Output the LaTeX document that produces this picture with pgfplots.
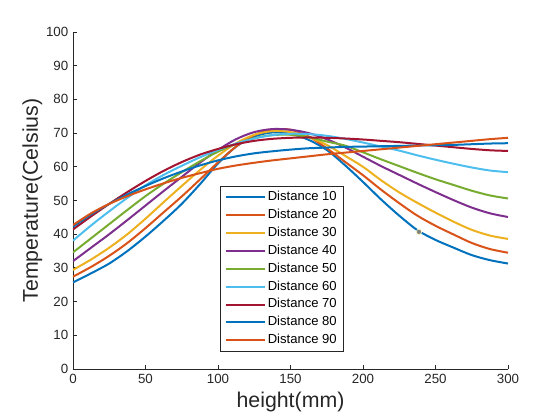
\documentclass[border=0pt]{standalone}
\usepackage{fontspec}
\setmainfont{Liberation Sans}
\usepackage{pgfplots}
\usepackage{pgfplotstable}
\pgfplotsset{compat=1.18}
\definecolor{c1}{RGB}{0,114,189}
\definecolor{c2}{RGB}{217,83,25}
\definecolor{c3}{RGB}{237,177,32}
\definecolor{c4}{RGB}{126,47,142}
\definecolor{c5}{RGB}{119,172,48}
\definecolor{c6}{RGB}{77,190,238}
\definecolor{c7}{RGB}{162,20,47}
\definecolor{axc}{RGB}{38,38,38}
\pgfplotstableread{
x     d10  d20  d30  d40  d50  d60  d70  d80  d90
0     25.7 27.4 29.4 32.0 34.6 38.1 41.4 42.2 42.7
12.5  28.4 30.3 32.5 36.0 38.8 42.6 45.3 45.9 46.2
25    31.3 33.6 36.0 40.0 43.0 46.8 49.0 49.0 49.0
37.5  35.0 37.4 40.0 44.2 47.2 50.8 52.5 51.8 51.3
50    39.3 41.8 44.6 48.5 51.3 54.5 55.8 54.3 53.3
62.5  44.0 46.5 49.5 52.8 55.0 57.6 58.8 56.6 55.1
75    49.0 51.2 54.3 57.0 58.4 60.3 61.4 58.6 56.7
87.5  54.8 56.2 59.0 61.2 61.6 62.8 63.6 60.4 58.1
100   61.0 61.3 63.3 65.0 64.5 65.0 65.3 61.9 59.4
112.5 66.0 66.0 67.0 68.2 66.8 66.9 66.7 63.1 60.4
125   69.0 69.4 69.5 70.3 68.5 68.4 67.7 64.0 61.2
137.5 70.2 71.0 70.6 71.2 69.4 69.4 68.3 64.6 61.9
150   69.8 71.0 70.3 71.0 69.5 69.8 68.6 65.1 62.5
162.5 68.0 69.0 68.8 70.0 68.8 69.7 68.7 65.5 63.1
175   65.0 65.5 66.5 68.2 67.5 69.2 68.6 65.7 63.7
187.5 60.5 61.5 63.3 65.8 66.3 68.3 68.4 65.9 64.2
200   55.5 57.5 60.0 63.0 64.3 67.2 68.1 66.0 64.7
212.5 50.3 53.2 56.0 60.2 62.2 66.0 67.7 66.1 65.2
225   45.5 49.2 52.4 57.6 60.2 64.8 67.3 66.2 65.7
237.5 41.2 45.5 49.3 55.0 58.2 63.4 66.8 66.3 66.2
250   38.3 42.5 46.4 52.5 56.3 62.1 66.3 66.4 66.7
262.5 36.0 39.9 43.7 50.1 54.6 60.9 65.8 66.5 67.2
275   33.8 37.4 41.3 47.9 52.9 59.8 65.3 66.7 67.7
287.5 32.3 35.6 39.6 46.2 51.5 58.9 64.9 66.9 68.2
300   31.3 34.5 38.6 45.1 50.6 58.4 64.7 67.0 68.6
}\datatable
\begin{document}
\begin{tikzpicture}
\begin{axis}[
  scale only axis=true,
  width=326.25pt, height=252.75pt,
  xmin=0, xmax=300, ymin=0, ymax=100,
  xtick={0,50,...,300}, ytick={0,10,...,100},
  axis lines*=left,
  axis line style={axc, line width=0.6pt},
  tick style={axc, line width=0.6pt},
  tick align=inside,
  major tick length=3.3pt,
  tick label style={font=\fontsize{10}{12}\selectfont, text=axc},
  /pgf/number format/assume math mode=true,
  xlabel={height(mm)}, ylabel={Temperature(Celsius)},
  ylabel shift=-4pt,
  label style={font=\fontsize{16}{19}\selectfont, text=axc},
  legend cell align=left,
  legend style={at={(0.338,0.543)}, anchor=north west, draw=axc, line width=0.6pt,
    font=\fontsize{9.8}{11}\selectfont, row sep=0pt, inner xsep=3.5pt, inner ysep=1.5pt,
    nodes={text height=7pt, text depth=2pt, inner ysep=2.2pt, inner xsep=1.5pt}},
  legend image code/.code={\draw[#1, line width=1.5pt] (0pt,0pt) -- (29pt,0pt);},
  every axis plot/.append style={line width=1.5pt, smooth},
]
\addplot[c1] table[x=x,y=d10]{\datatable};
\addplot[c2] table[x=x,y=d20]{\datatable};
\addplot[c3] table[x=x,y=d30]{\datatable};
\addplot[c4] table[x=x,y=d40]{\datatable};
\addplot[c5] table[x=x,y=d50]{\datatable};
\addplot[c6] table[x=x,y=d60]{\datatable};
\addplot[c7] table[x=x,y=d70]{\datatable};
\addplot[c1] table[x=x,y=d80]{\datatable};
\addplot[c2] table[x=x,y=d90]{\datatable};
\addplot[only marks, mark=*, mark size=2pt, line width=0.5pt, draw=yellow!25, fill=gray, forget plot] coordinates {(238.6,40.7)};
\legend{Distance 10,Distance 20,Distance 30,Distance 40,Distance 50,Distance 60,Distance 70,Distance 80,Distance 90}
\end{axis}
\path[use as bounding box] (-54.75pt,-38.25pt) rectangle (365.25pt,276.75pt);
\end{tikzpicture}
\end{document}
